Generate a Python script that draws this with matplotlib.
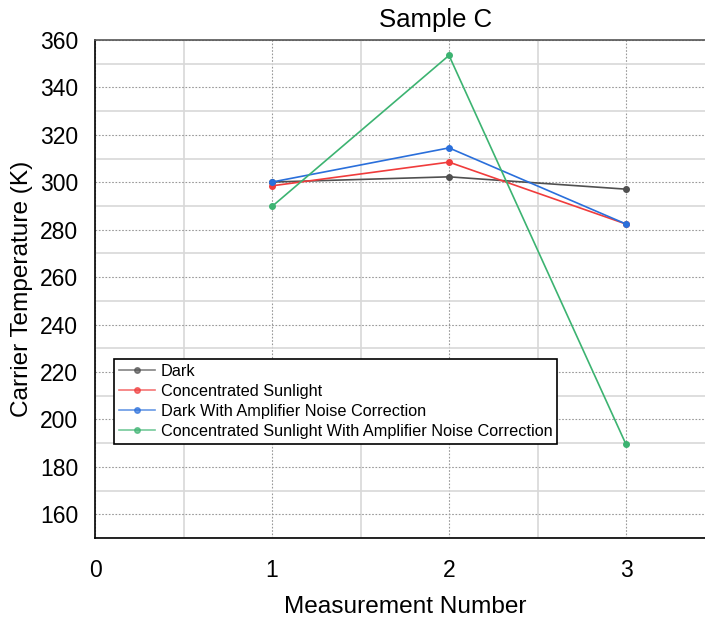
import matplotlib
matplotlib.use("Agg")
import matplotlib.pyplot as plt
from matplotlib.ticker import MultipleLocator

plt.rcParams['font.family'] = ['Liberation Sans', 'DejaVu Sans']

x = [1, 2, 3]
dark = [300.1, 302.3, 297.1]
conc = [298.5, 308.5, 282.4]
dark_corr = [300.1, 314.5, 282.4]
conc_corr = [289.8, 353.5, 189.5]
labels = ["Dark", "Concentrated Sunlight", "Dark With Amplifier Noise Correction",
          "Concentrated Sunlight With Amplifier Noise Correction"]
colors = ["#505050", "#f03c3c", "#2a6fdb", "#3cb371"]
series = [dark, conc, dark_corr, conc_corr]

fig = plt.figure(figsize=(7.05, 6.19), dpi=100)
ax = fig.add_axes([95/705, 1-538/619, 619.5/705, 498/619])

for s, c, l in zip(series, colors, labels):
    ax.plot(x, s, color=c, lw=1.2, marker='o', ms=4, label=l)

ax.set_xlim(0, 3.5)
ax.set_ylim(150, 360)
ax.xaxis.set_major_locator(MultipleLocator(1))
ax.xaxis.set_minor_locator(MultipleLocator(0.5))
ax.yaxis.set_minor_locator(MultipleLocator(10))
ax.set_yticks([160, 180, 200, 220, 240, 260, 280, 300, 320, 340, 360])
ax.grid(which='major', color='#999999', ls=(0, (1.5, 1.5)), lw=0.8)
ax.grid(which='minor', color='#d8d8d8', ls='-', lw=1.2)
ax.set_axisbelow(True)
ax.tick_params(which='both', length=0)
ax.tick_params(axis='y', labelsize=16.5, pad=12)
ax.tick_params(axis='x', labelsize=16.5, pad=15)
for sp in ['left', 'bottom']:
    ax.spines[sp].set_color('black')
    ax.spines[sp].set_linewidth(1.2)
ax.spines['top'].set_color('#555555')
ax.spines['top'].set_linewidth(1.2)
ax.spines['right'].set_visible(False)

ax.set_xlabel("Measurement Number", fontsize=17.6, labelpad=10)
ax.set_ylabel("Carrier Temperature (K)", fontsize=17.6, labelpad=5)
fig.text(436/705, 1-20/619, "Sample C", fontsize=18.5, ha='center', va='center')

leg = ax.legend(loc='upper left', bbox_to_anchor=(0.031, 0.359), fontsize=11.7,
                frameon=True, fancybox=False, edgecolor='black', framealpha=1,
                borderpad=0.3, labelspacing=0.3, handlelength=2.2, handletextpad=0.35,
                borderaxespad=0)
leg.get_frame().set_linewidth(1.2)
for h in leg.legend_handles:
    h.set_alpha(0.7)

fig.savefig("out.png", dpi=100)
